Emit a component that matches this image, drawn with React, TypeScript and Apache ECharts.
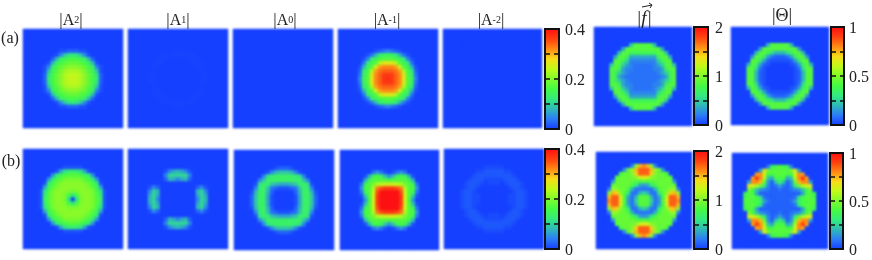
import React, { useEffect, useRef } from "react";
import * as echarts from "echarts";

// Every panel is a 25x25 field. Only one quadrant is listed
// (rows from the centre outward, each row from the centre outward), base-36 codes 0..z
// for 0..full scale; missing codes are 0.
const rowA_A2 = ["mlkigeb2","llkigea2","kkjhfd81","iihgec41","ggfec71","eedc72","ba841","2211"];
const rowA_A1 = ["00000011","00000011","0000001","00000110","0000111","000111","11111","11"];
const rowA_A0 = ["0"];
const rowA_Am1 = ["xwusnfd4","wwusnfc3","uutrkeb2","ssrmfd71","nnkfdb3","ffedb41","dcb731","4321"];
const rowA_Am2 = ["0"];
const rowA_F = ["3333346df","3333469df","333446dff","333469ff8","44449dff","6666dff6","ddddff8","fffff6","fff8"];
const rowA_T = ["0000127ff","0000127ff","000013aff","000126df7","11126cff","2236cff5","77adff7","fffff5","fff7"];
const rowB_A2 = ["0ahiihfc1","aehiihfb1","hhiiihea1","iiiihfd6","iiihgeb1","hhhfeb5","ffedb5","cba61","111"];
const rowB_A1 = ["00000497","00000696","00000794","00000241","0","4672","9994","7641"];
const rowB_A0 = ["00016cc82","00016cc82","00027cc71","11238cb4","6678bca1","ccccc84","cccba4","88741","221"];
const rowB_Am1 = ["zzzwme5","zzzwmf81","zzzvlfd3","wwvtkfe5","mmlkhfd3","effffd7","58ded71","01353"];
const rowB_Am2 = ["000011221","000011221","000001221","00001221","11012221","1112221","222221","22211","111"];
const rowB_F = ["ff935fnuus","ff736emuuq","9733bfipqi","3337eggij4","56beggggg","fefggggg5","nmihgggf","uupigge","uuqjg5","sqi4"];
const rowB_T = ["22236ceeff","22223aeffe","2222226efd","3223458eh","6324bgkmn","c825gqss6","ee68kswr","ffeemsr","fffhn6","fed4"];

const scaleA = 0.4;
const scaleF = 2;
const scaleT = 1;
const faintA1 = 0.06;
const faintAm2 = 0.28;
const ticksA = [0, 0.2, 0.4];
const ticksF = [0, 1, 2];
const ticksT = [0, 0.5, 1];
const titlesA = ["2", "1", "0", "-1", "-2"];

const COLORS = ["#1640ff","#2b7cf7","#2fb8b8","#33ea80","#44fa44","#80fa2c","#c0fa18","#f8dc18","#ff8a14","#ff4010","#ff1010"];
const SERIF = "'Liberation Serif', serif";
const N = 25;
const CODES = Array.from({ length: N }, (_, i) => String(i));

const panels = [
  { rows: rowA_A2, max: scaleA, full: scaleA, box: [23, 29, 100, 99] },
  { rows: rowA_A1, max: scaleA, full: faintA1, box: [128, 29, 100, 99] },
  { rows: rowA_A0, max: scaleA, full: scaleA, box: [233, 29, 100, 99] },
  { rows: rowA_Am1, max: scaleA, full: scaleA, box: [338, 29, 100, 99] },
  { rows: rowA_Am2, max: scaleA, full: scaleA, box: [443, 29, 99, 99] },
  { rows: rowA_F, max: scaleF, full: scaleF, box: [594, 27, 98, 99] },
  { rows: rowA_T, max: scaleT, full: scaleT, box: [731, 27, 98, 98] },
  { rows: rowB_A2, max: scaleA, full: scaleA, box: [23, 149, 100, 100] },
  { rows: rowB_A1, max: scaleA, full: scaleA, box: [128, 149, 100, 100] },
  { rows: rowB_A0, max: scaleA, full: scaleA, box: [234, 150, 100, 100] },
  { rows: rowB_Am1, max: scaleA, full: scaleA, box: [340, 150, 99, 100] },
  { rows: rowB_Am2, max: scaleA, full: faintAm2, box: [444, 149, 100, 100] },
  { rows: rowB_F, max: scaleF, full: scaleF, box: [596, 152, 96, 97] },
  { rows: rowB_T, max: scaleT, full: scaleT, box: [732, 153, 96, 96] },
];

const bars = [
  { box: [545, 29, 14, 100], max: scaleA, step: 0.1, ticks: ticksA, margin: 6 },
  { box: [694, 27, 14, 98], max: scaleF, step: 0.5, ticks: ticksF, margin: 7 },
  { box: [831, 27, 13, 98], max: scaleT, step: 0.25, ticks: ticksT, margin: 5 },
  { box: [545, 149, 14, 100], max: scaleA, step: 0.1, ticks: ticksA, margin: 6 },
  { box: [694, 151, 14, 98], max: scaleF, step: 0.5, ticks: ticksF, margin: 7 },
  { box: [830, 153, 13, 96], max: scaleT, step: 0.25, ticks: ticksT, margin: 6 },
];

function field(rows: string[], full: number) {
  const out: number[][] = [];
  const mid = Math.floor(N / 2);
  for (let j = 0; j < N; j++) {
    const row = rows[Math.abs(j - mid)] || "";
    for (let i = 0; i < N; i++) {
      const c = row[Math.abs(i - mid)] || "0";
      out.push([i, j, (parseInt(c, 36) / 35) * full]);
    }
  }
  return out;
}

function heatOption() {
  const byMax = (m: number) => panels.map((p, i) => (p.max === m ? i : -1)).filter((i) => i >= 0);
  return {
    animation: false,
    grid: panels.map((p) => ({
      left: p.box[0], top: p.box[1], width: p.box[2], height: p.box[3],
      show: true, backgroundColor: COLORS[0], borderWidth: 0,
    })),
    xAxis: panels.map((_, i) => ({ type: "category", gridIndex: i, data: CODES, show: false })),
    yAxis: panels.map((_, i) => ({ type: "category", gridIndex: i, data: CODES, show: false })),
    visualMap: [scaleA, scaleF, scaleT].map((m) => ({
      show: false, type: "continuous", min: 0, max: m, seriesIndex: byMax(m), inRange: { color: COLORS },
    })),
    series: panels.map((p, i) => ({
      type: "heatmap", xAxisIndex: i, yAxisIndex: i, data: field(p.rows, p.full),
      silent: true, progressive: 0, itemStyle: { borderWidth: 0 },
    })),
  };
}

function overlayOption() {
  const gradient = new echarts.graphic.LinearGradient(0, 1, 0, 0,
    COLORS.map((color, i) => ({ offset: i / (COLORS.length - 1), color })));
  const txt = (text: string, x: number, y: number, size: number, rich?: any, extra?: any) => ({
    type: "text", silent: true,
    style: { text, x, y, align: "center", verticalAlign: "middle", fill: "#222",
      font: `${size}px ${SERIF}`, rich, ...extra },
  });
  const subRich = {
    b: { fontFamily: "Liberation Serif", fontSize: 17, fill: "#222" },
    a: { fontFamily: "Liberation Serif", fontSize: 16, fill: "#222" },
    s: { fontFamily: "Liberation Serif", fontSize: 10, fill: "#222" },
  };
  const centres = [71, 178, 285, 387, 491];
  const graphic: any[] = [
    ...titlesA.map((t, i) => txt(`{b||}{a|A}{s|${t}}{b||}`, centres[i], 19, 16, subRich)),
    txt("(a)", 10, 37, 16),
    txt("(b)", 11, 160, 16),
    txt("|Θ|", 782, 15, 18),
    txt("|f|", 644, 17, 19, undefined, { font: `italic 19px ${SERIF}` }),
    { type: "line", silent: true, shape: { x1: 642, y1: 7, x2: 652, y2: 5 }, style: { stroke: "#222", lineWidth: 1 } },
    { type: "polyline", silent: true, shape: { points: [[649, 3], [652, 5], [650, 8]] }, style: { stroke: "#222", lineWidth: 1, fill: "none" } },
  ];
  return {
    animation: false,
    grid: bars.map((b) => ({
      left: b.box[0], top: b.box[1], width: b.box[2], height: b.box[3],
      show: true, backgroundColor: gradient, borderColor: "#111", borderWidth: 2,
    })),
    xAxis: bars.map((_, i) => ({ type: "value", gridIndex: i, show: false, min: 0, max: 1 })),
    yAxis: bars.map((b, i) => ({
      type: "value", gridIndex: i, position: "right", min: 0, max: b.max, interval: b.step,
      axisLine: { show: false }, axisTick: { show: false },
      splitLine: { show: true, lineStyle: { color: "#111", width: 1.6, type: [5, 4] } },
      axisLabel: {
        margin: b.margin, color: "#222", fontFamily: "Liberation Serif", fontSize: 16,
        formatter: (v: number) => (b.ticks.some((t) => Math.abs(t - v) < 1e-6) ? String(v) : ""),
      },
    })),
    graphic,
    series: [],
  };
}

export default function App() {
  const heatRef = useRef<HTMLDivElement>(null);
  const topRef = useRef<HTMLDivElement>(null);
  useEffect(() => {
    document.body.style.margin = "0";
    const heat = echarts.init(heatRef.current!, null, { renderer: "svg" });
    heat.setOption(heatOption() as any);
    const top = echarts.init(topRef.current!, null, { renderer: "svg" });
    top.setOption(overlayOption() as any);
    return () => { heat.dispose(); top.dispose(); };
  }, []);
  const layer: React.CSSProperties = { position: "absolute", left: 0, top: 0, width: 872, height: 260 };
  return (
    <div style={{ position: "absolute", left: 0, top: 0, width: 872, height: 260, overflow: "hidden", background: "#fff" }}>
      <div ref={heatRef} style={{ ...layer, filter: "blur(1.1px)" }} />
      <div ref={topRef} style={{ ...layer, filter: "blur(0.3px)" }} />
    </div>
  );
}
